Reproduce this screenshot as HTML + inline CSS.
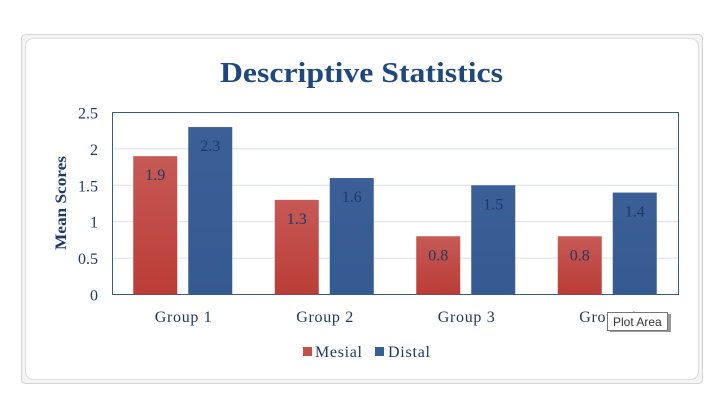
<!DOCTYPE html>
<html><head><meta charset="utf-8"><style>
body{margin:0;width:721px;height:405px;background:#fff;overflow:hidden;font-family:"Liberation Serif","DejaVu Serif",serif}
</style></head><body>
<svg width="721" height="405" xmlns="http://www.w3.org/2000/svg">
<defs>
<linearGradient id="gr" x1="0" y1="0" x2="0" y2="1"><stop offset="0" stop-color="#c65a56"/><stop offset="1" stop-color="#bb3c36"/></linearGradient>
<linearGradient id="gb" x1="0" y1="0" x2="0" y2="1"><stop offset="0" stop-color="#3b5f96"/><stop offset="1" stop-color="#355a91"/></linearGradient>
</defs>
<rect x="21.5" y="34.5" width="681" height="349" rx="4" fill="#f4f4f4" stroke="#d4d4d4"/>
<rect x="25.5" y="38.5" width="673" height="341" rx="8" fill="#fff" stroke="#dcdcdc"/>
<text x="220" y="82" textLength="283" lengthAdjust="spacingAndGlyphs" font-size="29" font-weight="bold" fill="#1f497d">Descriptive Statistics</text>
<text transform="translate(66,203) rotate(-90)" text-anchor="middle" textLength="94" lengthAdjust="spacingAndGlyphs" font-size="16" font-weight="bold" fill="#1f3864">Mean Scores</text>
<g id="grid"></g>
<rect x="112.5" y="112.5" width="566" height="182" fill="none" stroke="#3a5a8a"/>
<g id="bars"></g>
<g id="legend">
<rect x="303" y="347" width="9" height="9" fill="#c0504d"/>
<text x="315" y="357" textLength="47" font-size="16" fill="#1f3864">Mesial</text>
<rect x="375" y="347" width="9" height="9" fill="#365f96"/>
<text x="388" y="357" textLength="42" font-size="16" fill="#1f3864">Distal</text>
</g>
<g>
<rect x="610" y="314" width="61" height="18" fill="#9a9a9a"/>
<rect x="607.5" y="312.5" width="60" height="18" fill="#fff" stroke="#777"/>
<text x="613" y="326" font-family="Liberation Sans,sans-serif" font-size="12" fill="#333">Plot Area</text>
</g>
</svg>
<script>
const categories=["Group 1","Group 2","Group 3","Group 4"];
const mesial=[1.9,1.3,0.8,0.8];
const distal=[2.3,1.6,1.5,1.4];
const ticks=[0,0.5,1,1.5,2,2.5];
const NS="http://www.w3.org/2000/svg";
const x0=112.5,x1=678.5,y0=294.5,yTop=112.5,maxV=2.5;
const y=v=>y0-(y0-yTop)*v/maxV;
const gw=(x1-x0)/categories.length;
function mk(t,a,p){const e=document.createElementNS(NS,t);for(const k in a)e.setAttribute(k,a[k]);p.appendChild(e);return e;}
const grid=document.getElementById('grid'),bars=document.getElementById('bars');
ticks.forEach(t=>{
 if(t>0&&t<maxV){const l=mk('line',{x1:x0,x2:x1,y1:y(t),y2:y(t),stroke:'#d9e1ec'},grid);
 
 }
 const tx=mk('text',{x:98,y:y(t)+6,'text-anchor':'end','font-size':16,fill:'#1f3864'},grid);tx.textContent=t;
 
 
});
categories.forEach((c,i)=>{
 const cx=x0+gw*(i+0.5);
 [[mesial[i],cx-50,'url(#gr)','mesial'],[distal[i],cx+5,'url(#gb)','distal']].forEach(([v,bx,f,n])=>{
  const r=mk('rect',{x:bx,y:y(v),width:44,height:y0-y(v),fill:f},bars);
  
  
  const t=mk('text',{x:bx+22,y:y(v)+24,'text-anchor':'middle','font-size':16,fill:'#1f3864'},bars);t.textContent=v;
  
  
 });
 const t=mk('text',{x:cx,y:322,'text-anchor':'middle','font-size':16,textLength:57,fill:'#1f3864'},bars);t.textContent=c;
 
 
});
</script>
</body></html>
